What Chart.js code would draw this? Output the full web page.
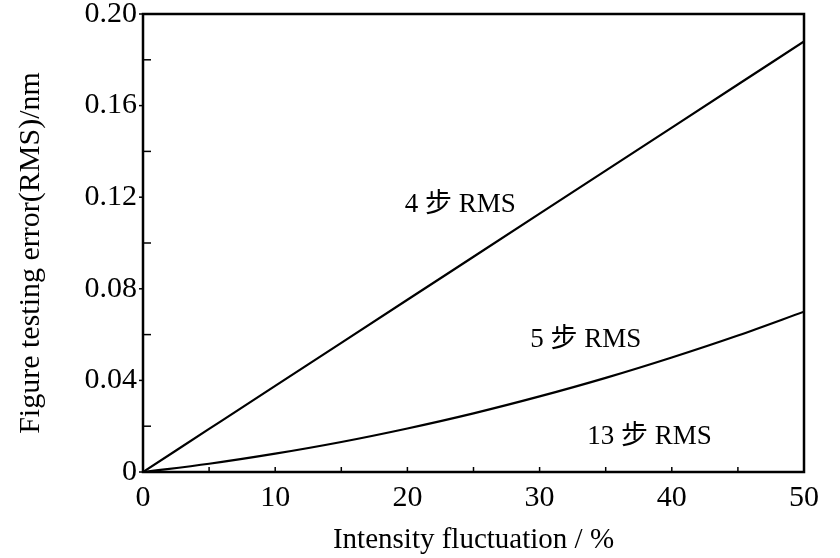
<!DOCTYPE html>
<html>
<head>
<meta charset="utf-8">
<script src="https://cdn.jsdelivr.net/npm/chart.js@4.4.1/dist/chart.umd.min.js"></script>
<style>
  html, body { margin: 0; padding: 0; background: #fff; }
  #wrap { width: 840px; height: 558px; }
</style>
</head>
<body>
<div id="wrap"><canvas id="rmsChart" width="840" height="558"></canvas></div>
<script>
// intensity fluctuation (%)
const fluctuation = [0, 5, 10, 15, 20, 25, 30, 35, 40, 45, 50];
// RMS error (nm)
const rms4 = [0, 0.0188, 0.0376, 0.0564, 0.0752, 0.094, 0.1128, 0.1316, 0.1504, 0.1692, 0.188];
const rms5 = [0, 0.0036, 0.0080, 0.0131, 0.0190, 0.0256, 0.0330, 0.0411, 0.0500, 0.0596, 0.0700];
const rms13 = [0, 0, 0, 0, 0, 0, 0, 0, 0, 0, 0];
const yTickLabels = [0, 0.04, 0.08, 0.12, 0.16, 0.20];
const xTickLabels = [0, 10, 20, 30, 40, 50];

const serif = "'Liberation Serif', 'Noto Sans CJK SC', serif";
const toPoints = (arr) => arr.map((v, i) => ({ x: fluctuation[i], y: v }));

// frame + tick marks (major ticks on y point out, minor in; x ticks in)
const frameTicks = {
  id: "frameTicks",
  afterDraw(chart) {
    const { ctx, chartArea: a, scales } = chart;
    ctx.save();
    ctx.strokeStyle = "#000";
    ctx.lineWidth = 2.5;
    ctx.strokeRect(a.left, a.top, a.right - a.left, a.bottom - a.top);
    ctx.lineWidth = 1.5;
    for (let v = 0; v <= 50; v += 5) {
      const x = scales.x.getPixelForValue(v);
      ctx.beginPath();
      ctx.moveTo(x, a.bottom);
      ctx.lineTo(x, a.bottom - 5);
      ctx.stroke();
    }
    for (let k = 0; k <= 10; k++) {
      const y = scales.y.getPixelForValue(k * 0.02);
      ctx.beginPath();
      if (k % 2 === 0) {
        ctx.moveTo(a.left, y);
        ctx.lineTo(a.left - 4, y);
      } else {
        ctx.moveTo(a.left, y);
        ctx.lineTo(a.left + 8, y);
      }
      ctx.stroke();
    }
    // y axis title, sits a bit below the plot centre in the original
    ctx.fillStyle = "#000";
    ctx.font = "30px " + serif;
    ctx.textAlign = "center";
    ctx.textBaseline = "middle";
    ctx.translate(31, (a.top + a.bottom) / 2 + 10);
    ctx.rotate(-Math.PI / 2);
    ctx.fillText("Figure testing error(RMS)/nm", 0, 0);
    ctx.restore();
  }
};

// curve labels placed in data coordinates
const curveLabels = {
  id: "curveLabels",
  afterDraw(chart, args, opts) {
    const { ctx, scales } = chart;
    ctx.save();
    ctx.fillStyle = "#000";
    ctx.font = "27px " + serif;
    ctx.textAlign = "left";
    ctx.textBaseline = "middle";
    opts.items.forEach(item => {
      ctx.fillText(item.text, scales.x.getPixelForValue(item.x), scales.y.getPixelForValue(item.y));
    });
    ctx.restore();
  }
};

const lineStyle = { borderColor: "#000", borderWidth: 2.2, pointRadius: 0, cubicInterpolationMode: "monotone" };

const ctx = document.getElementById("rmsChart").getContext("2d");
const rmsChart = new Chart(ctx, {
  type: "line",
  data: {
    datasets: [
      { label: "4 步 RMS", data: toPoints(rms4), ...lineStyle },
      { label: "5 步 RMS", data: toPoints(rms5), ...lineStyle },
      { label: "13 步 RMS", data: toPoints(rms13), ...lineStyle },
    ],
  },
  options: {
    responsive: false,
    animation: false,
    layout: { padding: { left: 0, top: 14, right: 36, bottom: 0 } },
    plugins: {
      legend: { display: false },
      tooltip: { enabled: false },
      curveLabels: {
        items: [
          { text: "4 步 RMS", x: 19.8, y: 0.1165 },
          { text: "5 步 RMS", x: 29.3, y: 0.0577 },
          { text: "13 步 RMS", x: 33.6, y: 0.0155 },
        ],
      },
    },
    scales: {
      x: {
        type: "linear",
        min: 0,
        max: 50,
        afterFit: (s) => { s.height = 86; s.paddingLeft = 0; s.paddingRight = 0; },
        afterBuildTicks: (s) => { s.ticks = xTickLabels.map(v => ({ value: v })); },
        grid: { display: false },
        border: { display: false },
        ticks: { color: "#000", font: { family: serif, size: 30 }, padding: 0, maxRotation: 0 },
        title: { display: true, text: "Intensity fluctuation / %", color: "#000", font: { family: serif, size: 29 }, padding: { top: 0, bottom: 0 } },
      },
      y: {
        min: 0,
        max: 0.2,
        afterFit: (s) => { s.width = 143; s.paddingTop = 0; s.paddingBottom = 0; },
        afterBuildTicks: (s) => { s.ticks = yTickLabels.map(v => ({ value: v })); },
        grid: { display: false, drawTicks: false },
        border: { display: false },
        ticks: {
          color: "#000",
          font: { family: serif, size: 30 },
          padding: 6,
          callback: (v) => (v === 0 ? "0" : v.toFixed(2)),
        },
        title: { display: false },
      },
    },
  },
  plugins: [frameTicks, curveLabels],
});
</script>
</body>
</html>
